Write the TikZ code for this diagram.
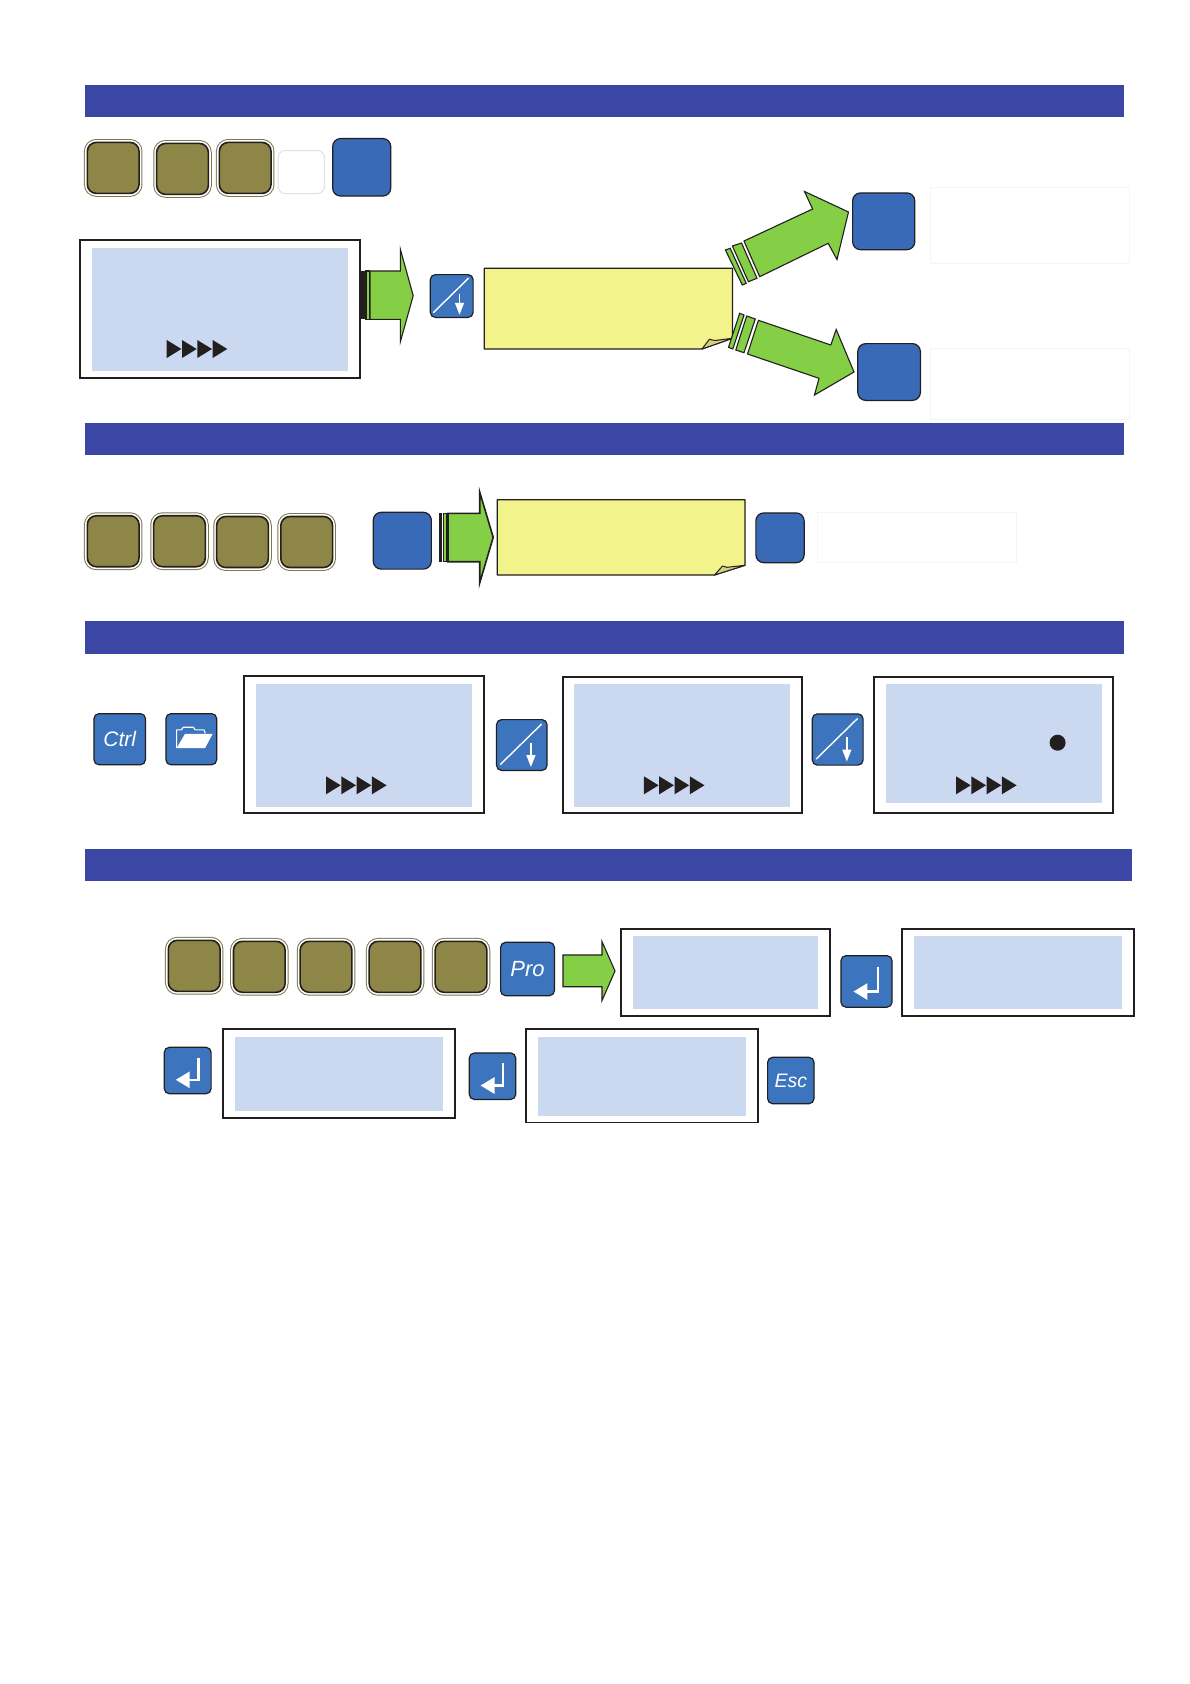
\documentclass[tikz,border=0pt]{standalone}
\usepackage{fontspec}
\setmainfont{Liberation Sans}
\usetikzlibrary{arrows.meta}
\definecolor{band}{RGB}{60,71,165}
\definecolor{keyblue}{RGB}{57,106,183}
\definecolor{iconblue}{RGB}{60,116,190}
\definecolor{olive}{RGB}{141,134,71}
\definecolor{ring}{RGB}{125,120,75}
\definecolor{ink}{RGB}{35,31,32}
\definecolor{lcd}{RGB}{202,216,240}
\definecolor{leaf}{RGB}{132,207,70}
\definecolor{note}{RGB}{242,243,139}
\definecolor{fold}{RGB}{212,210,120}
\tikzset{
  barb/.style={fill=band, inner sep=0pt, minimum width=1039pt, minimum height=32pt},
  okey/.style={draw=ink, line width=1.6pt, fill=olive, rounded corners=9pt, inner sep=0pt, minimum width=51.7pt, minimum height=51pt,
    preaction={draw=ring, line width=6.8pt}, preaction={draw=white, line width=4.8pt}},
  bkey/.style={draw=ink, line width=1.2pt, fill=keyblue, rounded corners=8pt, inner sep=0pt},
  ikey/.style={draw=ink, line width=1.2pt, fill=iconblue, rounded corners=5pt, inner sep=0pt, text=white, font=\fontsize{21}{21}\selectfont\itshape},
  ghostb/.style={draw=black!4, line width=1pt, inner sep=0pt},
  frameb/.style={draw=ink, line width=2pt, fill=white, inner sep=0pt},
  lcdb/.style={fill=lcd, inner sep=0pt},
  big/.style={draw=ink, line width=1.1pt, fill=leaf, line join=miter},
  notep/.style={draw=ink, line width=1.2pt, fill=note, line join=round},
  foldp/.style={draw=ink, line width=1pt, fill=fold, line join=round},
  glyph/.style={draw=white, line width=1.4pt},
}
\newcommand{\playmarks}[2]{\fill[ink, shift={(#1,#2)}] (0,-9) -- (14.7,0) -- (0,9) -- cycle (15.3,-9) -- (30,0) -- (15.3,9) -- cycle (30.6,-9) -- (45.3,0) -- (30.6,9) -- cycle (45.9,-9) -- (60.6,0) -- (45.9,9) -- cycle;}
\newcommand{\divglyph}[2]{\draw[glyph, shift={(#1.center)}, scale=#2] (-18.4,16.7) -- (17,-18); \draw[glyph, -{Triangle[length=12pt,width=9pt]}, shift={(#1.center)}, scale=#2] (7.8,-2) -- (7.8,18.8);}
\newcommand{\enterglyph}[2]{\draw[glyph, line width=2.6pt, -{Triangle[length=14pt,width=16pt]}, shift={(#1.center)}, scale=#2] (10.6,-12.8) -- (10.6,9.3) -- (-12,9.3);}
\begin{document}
\begin{tikzpicture}[x=1pt, y=-1pt]
  \useasboundingbox[fill=white] (0,0) rectangle (1190,1684);
  \node[barb] (bara) at (604.5,101) {};
  \node[okey] (ka) at (113.2,167.9) {};
  \node[okey] (kb) at (182.5,168.9) {};
  \node[okey] (kc) at (245.2,167.9) {};
  \node[draw=black!12, line width=1pt, rounded corners=7pt, minimum width=46.3pt, minimum height=43pt, inner sep=0pt] (kghost) at (301.3,172) {};
  \node[bkey, minimum width=58.1pt, minimum height=57.5pt] (kblue) at (361.7,167.3) {};
  \node[frameb, minimum width=280pt, minimum height=137.4pt] (dispm) at (220,309) {};
  \node[lcdb, minimum width=256.3pt, minimum height=123.3pt] (lcdm) at (219.8,309.3) {};
  \playmarks{166.7}{349}
  \fill[ink] (360.5,271) rectangle (366,319.3);
  \draw[big] (366,271) rectangle (369.5,319.3);
  \draw[big] (370,271) -- (400.3,271) -- (400.3,249) -- (413.2,295.7) -- (400.3,342) -- (400.3,319.3) -- (370,319.3) -- cycle;
  \node[ikey, minimum width=42.8pt, minimum height=42.8pt] (diva) at (451.7,296) {};
  \divglyph{diva}{1}
  \draw[notep] (484.3,268.3) -- (732.4,268.3) -- (732.4,338.3) -- (702,349) -- (484.3,349) -- cycle;
  \draw[foldp] (702,349) -- (709.4,339.3) -- (715,340.5) -- (732.4,338.3) -- cycle;
  \draw[big] (725.4,250) -- (730.2,248.3) -- (746.2,283.3) -- (742.3,285) -- cycle;
  \draw[big] (732.4,246) -- (741.5,243) -- (757,278.3) -- (748.4,281.7) -- cycle;
  \draw[big] (744,241) -- (812.6,209) -- (804.5,191.5) -- (848.5,212) -- (837,259.5) -- (828.2,243.3) -- (759.7,276.7) -- cycle;
  \draw[big] (739.7,313.3) -- (744,315) -- (732.8,349) -- (728.5,347.3) -- cycle;
  \draw[big] (746.7,316) -- (755.3,319) -- (744,352.7) -- (735.8,350) -- cycle;
  \draw[big] (758.4,320.3) -- (830.8,345) -- (836.2,329.5) -- (854,372) -- (814.5,395) -- (819,378.3) -- (747.5,354) -- cycle;
  \node[bkey, minimum width=62.2pt, minimum height=56.8pt] (bup) at (883.7,221.3) {};
  \node[bkey, minimum width=62.6pt, minimum height=56.8pt] (bdn) at (889.1,372) {};
  \node[ghostb, minimum width=199.7pt, minimum height=75.4pt] (ghup) at (1030,225.5) {};
  \node[ghostb, minimum width=199.7pt, minimum height=71pt] (ghdn) at (1030,384.3) {};
  \node[barb] (barb) at (604.5,439) {};
  \node[okey] (kd) at (113.2,541.2) {};
  \node[okey] (ke) at (179.5,541.2) {};
  \node[okey] (kf) at (242.5,542) {};
  \node[okey] (kg) at (306.7,542) {};
  \node[bkey, minimum width=58.1pt, minimum height=56.8pt] (kset) at (402.3,540.7) {};
  \fill[ink] (439,513.3) rectangle (442.3,561.7);
  \draw[big] (443.5,513.3) rectangle (446.5,561.7);
  \draw[big, line width=1.6pt] (448,513.3) -- (479.7,513.3) -- (479.7,492) -- (493.2,537.3) -- (479.7,583) -- (479.7,561.7) -- (448,561.7) -- cycle;
  \draw[notep] (497.3,499.7) -- (745,499.7) -- (745,565.3) -- (714.6,575) -- (497.3,575) -- cycle;
  \draw[foldp] (714.6,575) -- (722.5,566) -- (727,567.3) -- (745,565.3) -- cycle;
  \node[bkey, minimum width=48.3pt, minimum height=49.8pt] (ksmall) at (780,537.8) {};
  \node[ghostb, minimum width=199.5pt, minimum height=50.6pt] (ghset) at (916.8,537.5) {};
  \node[barb, minimum height=33pt] (barc) at (604.5,637.5) {};
  \node[ikey, minimum width=51.5pt, minimum height=51.1pt] (ctrl) at (119.7,739.2) {Ctrl};
  \node[ikey, minimum width=50.8pt, minimum height=51.1pt] (folder) at (191.3,739.2) {};
  \draw[white, line width=1.1pt, line join=round, shift={(folder.center)}] (-14.7,9) -- (-14.7,-9.3) -- (-10,-9.3) -- (-8,-12) -- (2,-12) -- (4,-9.3) -- (12.7,-9.3) -- (14,-6);
  \fill[white, shift={(folder.center)}] (-14.7,9) -- (-6.3,-5.3) -- (21.3,-5.3) -- (13.7,9) -- cycle;
  \node[frameb, minimum width=239.7pt, minimum height=137pt] (dispa) at (364.2,744.8) {};
  \node[lcdb, minimum width=216pt, minimum height=122.7pt] (lcda) at (364,745.3) {};
  \playmarks{326}{785.3}
  \node[ikey, minimum width=50.5pt, minimum height=50.8pt] (divb) at (521.8,745) {};
  \divglyph{divb}{1.17}
  \node[frameb, minimum width=239pt, minimum height=136.6pt] (dispb) at (682,745) {};
  \node[lcdb, minimum width=216pt, minimum height=122.7pt] (lcdb) at (682,745.3) {};
  \playmarks{643.9}{785.3}
  \node[ikey, minimum width=50.8pt, minimum height=51.2pt] (divc) at (837.7,739.5) {};
  \divglyph{divc}{1.17}
  \node[frameb, minimum width=239pt, minimum height=136.6pt] (dispc) at (993.8,745) {};
  \node[lcdb, minimum width=216pt, minimum height=118.7pt] (lcdc) at (993.8,743.3) {};
  \playmarks{956}{785.3}
  \node[circle, fill=ink, inner sep=0pt, minimum size=16pt] (dot) at (1057.6,742.7) {};
  \node[barb, minimum width=1047pt, minimum height=31.7pt] (bard) at (608.5,864.85) {};
  \node[okey] (kh) at (194.2,965.8) {};
  \node[okey] (ki) at (259.3,966.8) {};
  \node[okey] (kj) at (326,966.8) {};
  \node[okey] (kk) at (395,966.8) {};
  \node[okey] (kl) at (461,966.8) {};
  \node[ikey, minimum width=53.8pt, minimum height=53.4pt, font=\fontsize{22}{22}\selectfont\itshape] (pro) at (527.5,969) {Pro};
  \draw[big] (563,955) -- (602,955) -- (602,941.5) -- (615,971) -- (602,1000.5) -- (602,986.7) -- (563,986.7) -- cycle;
  \node[frameb, minimum width=208.2pt, minimum height=87pt] (dispd) at (725.4,972.8) {};
  \node[lcdb, minimum width=185.2pt, minimum height=73pt] (lcdd) at (725.4,972.5) {};
  \node[ikey, minimum width=51.1pt, minimum height=51.5pt] (enta) at (866.5,981.4) {};
  \enterglyph{enta}{1.09}
  \node[frameb, minimum width=231.5pt, minimum height=87pt] (dispe) at (1017.8,972.8) {};
  \node[lcdb, minimum width=207.7pt, minimum height=73pt] (lcde) at (1017.8,972.5) {};
  \node[ikey, minimum width=46.8pt, minimum height=46.4pt] (entb) at (187.7,1070.5) {};
  \enterglyph{entb}{1}
  \node[frameb, minimum width=231.4pt, minimum height=89pt] (dispf) at (339,1073.8) {};
  \node[lcdb, minimum width=208pt, minimum height=74pt] (lcdf) at (339,1074) {};
  \node[ikey, minimum width=46.4pt, minimum height=46.5pt] (entc) at (492.5,1076.2) {};
  \enterglyph{entc}{1}
  \node[frameb, line width=1.2pt, minimum width=232pt, minimum height=93.8pt] (dispg) at (641.9,1075.8) {};
  \node[lcdb, minimum width=208pt, minimum height=79pt] (lcdg) at (642,1076.5) {};
  \node[ikey, minimum width=46.4pt, minimum height=46.4pt, font=\fontsize{19.5}{19.5}\selectfont\itshape] (esc) at (790.8,1080.5) {Esc};
\end{tikzpicture}
\end{document}
